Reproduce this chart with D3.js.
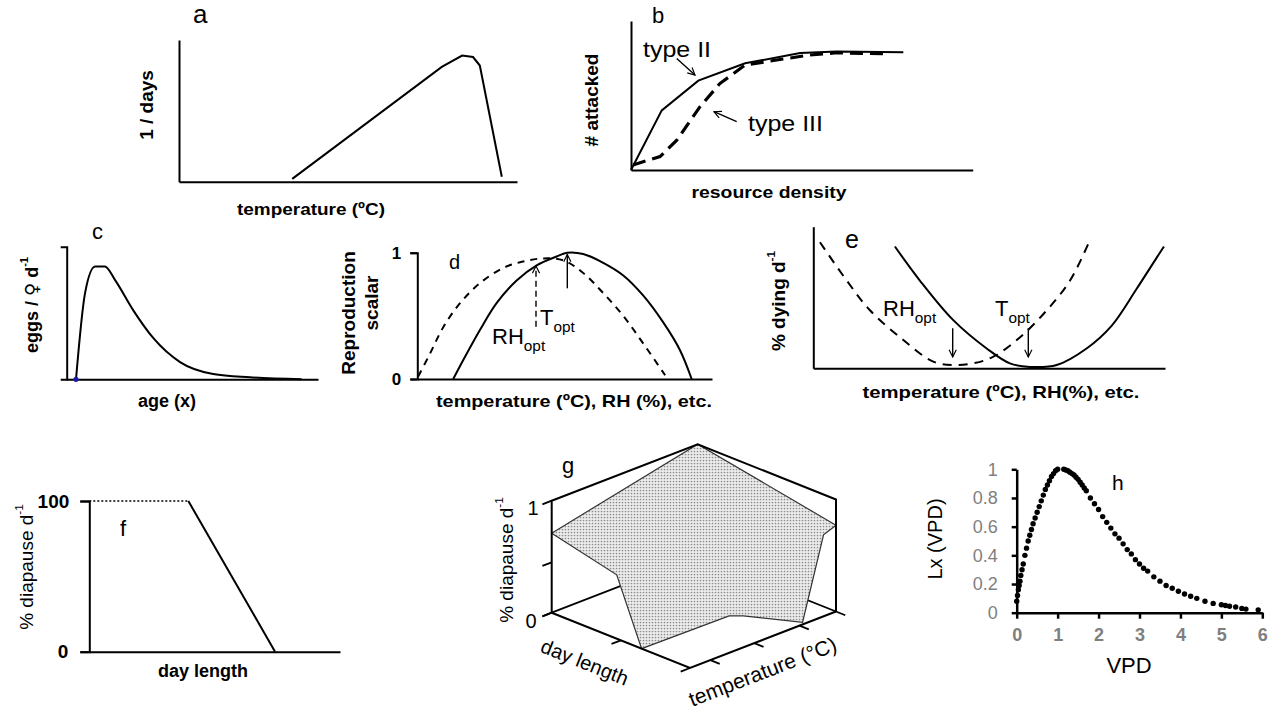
<!DOCTYPE html>
<html>
<head>
<meta charset="utf-8">
<script src="https://cdn.jsdelivr.net/npm/d3@7"></script>
<style>
  body { margin: 0; background: #fff; }
  text { font-family: "Liberation Sans", Arial, sans-serif; }
</style>
</head>
<body>
<div id="chart"></div>
<script>
// ---- data ----
// a: development rate vs temperature
var aTemp = [13.4, 31.1, 33.5, 34.8, 35.6, 38.2];
var aRate = [0.02, 0.81, 0.89, 0.88, 0.82, 0.035];
// b: functional responses
var bDens2 = [0, 9, 19.7, 33.4, 49.5, 60.2, 79.7];
var bType2 = [0, 0.4, 0.6, 0.716, 0.785, 0.796, 0.79];
var bDens3 = [0.6, 8.5, 13.4, 20.2, 26, 33.4, 42.6, 52.4, 60.2, 73.8];
var bType3 = [0.034, 0.09, 0.2, 0.425, 0.58, 0.705, 0.738, 0.772, 0.787, 0.78];
// c: fecundity vs age
var cAge  = [3.7, 7.3, 11.3, 15.2, 19.2, 26.5, 34.5, 45.1, 58.3, 72.9, 93.5];
var cEggs = [0, 0.65, 0.85, 0.85, 0.75, 0.52, 0.31, 0.13, 0.04, 0.015, 0];
// d: reproduction scalar
var dTemp = [12.2, 15.6, 21.3, 26.9, 33.7, 40.5, 47.3, 50.9, 56.3, 63.1, 69.9, 76.7, 83.4, 89.1, 93.1];
var dTVal = [0, 0.15, 0.39, 0.6, 0.78, 0.9, 0.97, 1, 0.99, 0.92, 0.82, 0.66, 0.45, 0.23, 0];
var dRh   = [0.3, 4.3, 8.8, 14.5, 21.3, 29.2, 35.9, 42.8, 49.5, 56.3, 63.1, 69.9, 76.7, 84.1];
var dRhVal = [0.02, 0.2, 0.41, 0.6, 0.76, 0.88, 0.93, 0.955, 0.94, 0.84, 0.68, 0.5, 0.28, 0.03];
// e: mortality
var eTemp = [23.2, 30.3, 39.8, 49.3, 55.9, 61.6, 69.2, 77.7, 84.8, 91.9, 97.6, 99.7];
var eTVal = [0.86, 0.62, 0.34, 0.14, 0.035, 0.01, 0.023, 0.14, 0.3, 0.56, 0.78, 0.86];
var eRh   = [1.9, 9.5, 16.1, 25.6, 34.1, 39.8, 45.5, 51.2, 58.8, 66.4, 73, 78.2];
var eRhVal = [0.89, 0.62, 0.41, 0.2, 0.047, 0.023, 0.035, 0.082, 0.22, 0.41, 0.62, 0.88];
// f: diapause vs day length
var fDay   = [0, 39.5, 74.1];
var fDiap  = [100, 100, 0];
// g: diapause surface (temperature, day length, response), 0..1 each
var gSurfT = [0, 1, 1, 1, 0.79, 0.64, 0.59, 0, 0];
var gSurfD = [1, 1, 0, 0.09, 0.02, 0.29, 0.34, 0.35, 0.53];
var gSurfZ = [0.71, 1, 0.77, 0.64, 0, 0, 0, 0, 0.57];
var gZTicks = [0, 0.45, 1];
var gDTicks = [0, 0.5, 1];
var gTTicks = [0.14, 0.44, 0.75, 1];
// h: Lx(VPD)
var hVpd = [0, 0.02, 0.04, 0.06, 0.08, 0.1, 0.13, 0.16, 0.2, 0.24, 0.28, 0.32, 0.36, 0.4, 0.45, 0.5,
            0.55, 0.6, 0.65, 0.7, 0.75, 0.8, 0.85, 0.9, 0.95, 1.0,
            1.15, 1.2, 1.25, 1.3, 1.35, 1.4, 1.45, 1.5, 1.55, 1.6, 1.65, 1.7, 1.8, 1.9, 2.0, 2.1,
            2.2, 2.3, 2.4, 2.5, 2.6, 2.7, 2.8, 2.9, 3.0, 3.1, 3.2, 3.35, 3.5, 3.65, 3.8, 3.95,
            4.1, 4.25, 4.4, 4.6, 4.8, 5.0, 5.1, 5.2, 5.35, 5.5, 5.6, 5.9];
var hLx  = [0.08, 0.12, 0.16, 0.19, 0.22, 0.26, 0.3, 0.34, 0.4, 0.45, 0.5, 0.54, 0.58, 0.62, 0.66, 0.7,
            0.74, 0.78, 0.82, 0.86, 0.89, 0.92, 0.95, 0.97, 0.99, 1.0,
            1.0, 0.995, 0.99, 0.98, 0.97, 0.96, 0.945, 0.93, 0.91, 0.89, 0.87, 0.85, 0.8, 0.76, 0.72, 0.67,
            0.63, 0.59, 0.55, 0.52, 0.48, 0.44, 0.41, 0.37, 0.34, 0.31, 0.29, 0.25, 0.22, 0.19, 0.17, 0.15,
            0.13, 0.115, 0.1, 0.08, 0.065, 0.055, 0.05, 0.045, 0.04, 0.03, 0.025, 0.02];
var hXTicks = [0, 1, 2, 3, 4, 5, 6];
var hYTicks = [0, 0.2, 0.4, 0.6, 0.8, 1];

// ---- drawing ----
var svg = d3.select("#chart").append("svg")
    .attr("xmlns", "http://www.w3.org/2000/svg")
    .attr("width", 1281)
    .attr("height", 711);

var defs = svg.append("defs");
defs.append("marker")
    .attr("id", "open")
    .attr("viewBox", "0 0 10 10")
    .attr("refX", 9).attr("refY", 5)
    .attr("markerWidth", 9).attr("markerHeight", 9)
    .attr("markerUnits", "userSpaceOnUse")
    .attr("orient", "auto")
    .append("path")
    .attr("d", "M1,1 L9,5 L1,9")
    .attr("fill", "none").attr("stroke", "#000").attr("stroke-width", 1.3);

var pat = defs.append("pattern").attr("id", "dots")
    .attr("width", 3).attr("height", 3).attr("patternUnits", "userSpaceOnUse");
pat.append("rect").attr("width", 3).attr("height", 3).attr("fill", "#ececec");
pat.append("circle").attr("cx", 1.5).attr("cy", 1.5).attr("r", 0.85).attr("fill", "#8c8c8c");

function styleAxis(g, w) {
    g.select(".domain").attr("stroke", "#000").attr("stroke-width", w || 2);
    g.selectAll(".tick line").attr("stroke", "#000").attr("stroke-width", w || 2);
    return g;
}

function drawAxes(x, y, opts) {
    opts = opts || {};
    var left = d3.axisLeft(y).tickValues(opts.yTicks || []).tickSizeOuter(opts.outer || 0)
        .tickSize(opts.tickSize || 0).tickPadding(opts.pad || 6);
    if (opts.fmt) left.tickFormat(opts.fmt);
    if (opts.outer) left.tickSizeOuter(opts.outer);
    var gl = svg.append("g").attr("transform", "translate(" + x.range()[0] + ",0)").call(left);
    gl.selectAll("text").attr("font-size", opts.fs || 16).attr("font-weight", "bold").attr("fill", "#000");
    styleAxis(gl);
    var bottom = d3.axisBottom(x).tickValues([]).tickSizeOuter(0);
    var gb = svg.append("g").attr("transform", "translate(0," + y.range()[0] + ")").call(bottom);
    styleAxis(gb);
    return gl;
}

function curve(xs, ys, x, y, c) {
    return d3.line().x(function (d) { return x(d[0]); }).y(function (d) { return y(d[1]); })
        .curve(c || d3.curveLinear)(d3.zip(xs, ys));
}

function addText(x, y, parts, size, opts) {
    opts = opts || {};
    var t = svg.append("text").attr("x", x).attr("y", y).attr("font-size", size)
        .attr("font-weight", opts.bold ? "bold" : "normal")
        .attr("text-anchor", opts.anchor || "start")
        .attr("fill", opts.fill || "#000");
    if (opts.rotate !== undefined) {
        t.attr("x", 0).attr("y", 0)
            .attr("transform", "translate(" + x + "," + y + ") rotate(" + opts.rotate + ")")
            .attr("dominant-baseline", "middle");
    }
    if (opts.len) t.attr("textLength", opts.len).attr("lengthAdjust", "spacingAndGlyphs");
    parts.forEach(function (p) {
        var ts = t.append("tspan").text(p[0]);
        if (p[1] === "sup") ts.attr("font-size", size * 0.62).attr("dy", -size * 0.42);
        if (p[1] === "sub") ts.attr("font-size", size * 0.7).attr("dy", size * 0.3);
        if (p[1] === "sym") ts.style("font-family", '"DejaVu Sans", sans-serif').attr("font-weight", "normal");
    });
    return t;
}

function arrow(x1, y1, x2, y2, dash) {
    svg.append("line").attr("x1", x1).attr("y1", y1).attr("x2", x2).attr("y2", y2)
        .attr("stroke", "#000").attr("stroke-width", 1.4)
        .attr("stroke-dasharray", dash || null)
        .attr("marker-end", "url(#open)");
}

// ---------- a ----------
var aX = d3.scaleLinear().domain([0, 40]).range([179, 517]);
var aY = d3.scaleLinear().domain([0, 1]).range([181.7, 40]);
drawAxes(aX, aY);
svg.append("path").attr("d", curve(aTemp, aRate, aX, aY))
    .attr("fill", "none").attr("stroke", "#000").attr("stroke-width", 2);
addText(193, 23, [["a"]], 26);
addText(311, 215, [["temperature (ºC)"]], 17, {bold: true, anchor: "middle", len: 148});
addText(148, 105, [["1 / days"]], 19, {bold: true, anchor: "middle", rotate: -90});

// ---------- b ----------
var bX = d3.scaleLinear().domain([0, 100]).range([631, 972.7]);
var bY = d3.scaleLinear().domain([0, 1]).range([170, 21]);
drawAxes(bX, bY);
svg.append("path").attr("d", curve(bDens2, bType2, bX, bY))
    .attr("fill", "none").attr("stroke", "#000").attr("stroke-width", 2);
svg.append("path").attr("d", curve(bDens3, bType3, bX, bY))
    .attr("fill", "none").attr("stroke", "#000").attr("stroke-width", 3.2)
    .attr("stroke-dasharray", "13,7");
addText(652, 23, [["b"]], 22);
addText(643, 57, [["type II"]], 22, {len: 68});
addText(748, 131, [["type III"]], 22, {len: 75});
arrow(676.7, 58.5, 695, 75);
arrow(736.7, 121.7, 714, 111.7);
addText(769, 198, [["resource density"]], 17, {bold: true, anchor: "middle", len: 155});
addText(593, 100, [["# attacked"]], 19, {bold: true, anchor: "middle", rotate: -90});

// ---------- c ----------
var cX = d3.scaleLinear().domain([0, 100]).range([66.7, 318]);
var cY = d3.scaleLinear().domain([0, 1]).range([379.3, 246.7]);
drawAxes(cX, cY, {outer: 6});
svg.append("path").attr("d", curve(cAge, cEggs, cX, cY, d3.curveMonotoneX))
    .attr("fill", "none").attr("stroke", "#000").attr("stroke-width", 2);
svg.append("circle").attr("cx", cX(cAge[0])).attr("cy", cY(cEggs[0])).attr("r", 2.6).attr("fill", "#1a1aa8");
addText(92, 239, [["c"]], 22);
addText(167, 407, [["age (x)"]], 18, {bold: true, anchor: "middle"});
addText(33, 305, [["eggs / "], ["\u2640\uFE0E", "sym"], [" d"], ["-1", "sup"]], 18, {bold: true, anchor: "middle", rotate: -90});

// ---------- d ----------
var dX = d3.scaleLinear().domain([0, 100]).range([417.3, 712]);
var dY = d3.scaleLinear().domain([0, 1]).range([379, 252.7]);
drawAxes(dX, dY, {yTicks: [0, 1], tickSize: 7, pad: 9, fmt: d3.format("d"), fs: 17});
svg.append("path").attr("d", curve(dTemp, dTVal, dX, dY, d3.curveCatmullRom))
    .attr("fill", "none").attr("stroke", "#000").attr("stroke-width", 2);
svg.append("path").attr("d", curve(dRh, dRhVal, dX, dY, d3.curveCatmullRom))
    .attr("fill", "none").attr("stroke", "#000").attr("stroke-width", 2)
    .attr("stroke-dasharray", "7,6");
arrow(dX(50.9), 288.3, dX(50.9), 254.5);
arrow(536, 326.7, 536, 266, "6,4");
addText(449, 269, [["d"]], 20);
addText(540, 325, [["T"], ["opt", "sub"]], 22);
addText(492, 344, [["RH"], ["opt", "sub"]], 22);
addText(574, 407, [["temperature (ºC), RH (%), etc."]], 17, {bold: true, anchor: "middle", len: 276});
addText(350, 313, [["Reproduction"]], 19, {bold: true, anchor: "middle", rotate: -90});
addText(373, 303, [["scalar"]], 19, {bold: true, anchor: "middle", rotate: -90});

// ---------- e ----------
var eX = d3.scaleLinear().domain([0, 100]).range([813.3, 1165]);
var eY = d3.scaleLinear().domain([0, 1]).range([368.3, 226.7]);
drawAxes(eX, eY);
svg.append("path").attr("d", curve(eTemp, eTVal, eX, eY, d3.curveCatmullRom))
    .attr("fill", "none").attr("stroke", "#000").attr("stroke-width", 2);
svg.append("path").attr("d", curve(eRh, eRhVal, eX, eY, d3.curveCatmullRom))
    .attr("fill", "none").attr("stroke", "#000").attr("stroke-width", 2)
    .attr("stroke-dasharray", "9,7");
arrow(952.7, 328.3, 952.7, 357);
arrow(1028.3, 328.3, 1028.3, 357);
addText(845, 248, [["e"]], 25);
addText(883, 316, [["RH"], ["opt", "sub"]], 22);
addText(995, 316, [["T"], ["opt", "sub"]], 22);
addText(1001, 398, [["temperature (ºC), RH(%),  etc."]], 17, {bold: true, anchor: "middle", len: 277});
addText(780, 301, [["% dying  d"], ["-1", "sup"]], 19, {bold: true, anchor: "middle", rotate: -90});

// ---------- f ----------
var fX = d3.scaleLinear().domain([0, 100]).range([89.3, 340]);
var fY = d3.scaleLinear().domain([0, 100]).range([651.7, 501]);
var fAx = drawAxes(fX, fY, {yTicks: [0, 100], tickSize: 9, pad: 11, fmt: d3.format("d"), fs: 19});
fAx.selectAll(".tick text").attr("dx", function (d) { return d === 0 ? -1 : 0; });
svg.append("path").attr("d", curve(fDay.slice(0, 2), fDiap.slice(0, 2), fX, fY))
    .attr("fill", "none").attr("stroke", "#000").attr("stroke-width", 1.6)
    .attr("stroke-dasharray", "2,2");
svg.append("path").attr("d", curve(fDay.slice(1), fDiap.slice(1), fX, fY))
    .attr("fill", "none").attr("stroke", "#000").attr("stroke-width", 2);
addText(120, 536, [["f"]], 22);
addText(203, 677, [["day length"]], 18, {bold: true, anchor: "middle"});
addText(28, 567, [["% diapause  d"], ["-1", "sup"]], 19, {anchor: "middle", rotate: -90});

// ---------- g (3-D surface) ----------
var gF = [690, 668], gTv = [146, -56.5], gDv = [-138.3, -55.3], gH = 112;
var gU = d3.scaleLinear().domain([0, 1]).range([0, 1]);
function proj(t, d, z) {
    return [gF[0] + gU(t) * gTv[0] + gU(d) * gDv[0],
            gF[1] + gU(t) * gTv[1] + gU(d) * gDv[1] - gU(z) * gH];
}
function seg(pts, w) {
    svg.append("path").attr("d", d3.line()(pts))
        .attr("fill", "none").attr("stroke", "#000").attr("stroke-width", w || 2);
}
// back floor lines (mostly hidden by the surface)
seg([proj(0, 1, 0), proj(1, 1, 0), proj(1, 0, 0)], 1.8);
// surface
var surf = d3.range(gSurfT.length).map(function (i) { return proj(gSurfT[i], gSurfD[i], gSurfZ[i]); });
svg.append("path").attr("d", d3.line()(surf) + "Z")
    .attr("fill", "url(#dots)").attr("stroke", "#333").attr("stroke-width", 1.2);
// frame
seg([proj(0, 1, 0), proj(0, 0, 0), proj(1, 0, 0)]);
seg([proj(0, 1, 0), proj(0, 1, 1), proj(1, 1, 1), proj(1, 0, 1), proj(1, 0, 0)]);
// ticks
var tk = 10, tLen = Math.hypot(gTv[0], gTv[1]), dLen = Math.hypot(gDv[0], gDv[1]);
gZTicks.forEach(function (z) {
    var p = proj(0, 1, z);
    seg([p, [p[0] - gTv[0] / tLen * tk, p[1] - gTv[1] / tLen * tk]], 1.8);
});
gDTicks.forEach(function (d) {
    var p = proj(0, d, 0);
    seg([p, [p[0] - gTv[0] / tLen * tk, p[1] - gTv[1] / tLen * tk]], 1.8);
});
gTTicks.forEach(function (t) {
    var p = proj(t, 0, 0);
    seg([p, [p[0] - gDv[0] / dLen * tk, p[1] - gDv[1] / dLen * tk]], 1.8);
});
var z1 = proj(0, 1, 1), z0 = proj(0, 1, 0);
addText(z1[0] - 13, z1[1] + 14, [["1"]], 20, {anchor: "end"});
addText(z0[0] - 15, z0[1] + 15, [["0"]], 20, {anchor: "end"});
addText(562, 473, [["g"]], 22);
addText(508, 560, [["% diapause  d"], ["-1", "sup"]], 19, {anchor: "middle", rotate: -90});
addText(584, 664, [["day length"]], 20, {anchor: "middle", rotate: 21.8});
addText(763, 673, [["temperature (°C)"]], 21, {anchor: "middle", rotate: -21.2});

// ---------- h ----------
var hX = d3.scaleLinear().domain([0, 6]).range([1016.7, 1262.3]);
var hY = d3.scaleLinear().domain([0, 1]).range([612.7, 469.3]);
var hl = svg.append("g").attr("transform", "translate(1016.7,0)")
    .call(d3.axisLeft(hY).tickValues(hYTicks).tickSize(5).tickSizeOuter(0).tickPadding(14)
        .tickFormat(d3.format("~g")));
styleAxis(hl, 2.5);
hl.selectAll("text").attr("font-size", 18).attr("fill", "#7f7f7f");
var hb = svg.append("g").attr("transform", "translate(0,612.7)")
    .call(d3.axisBottom(hX).tickValues(hXTicks).tickSize(6).tickSizeOuter(0).tickPadding(10)
        .tickFormat(d3.format("d")));
styleAxis(hb, 2.5);
hb.selectAll("text").attr("font-size", 18).attr("font-weight", "bold").attr("fill", "#7f7f7f");
svg.append("g").selectAll("circle")
    .data(d3.zip(hVpd, hLx))
    .enter().append("circle")
    .attr("cx", function (d) { return hX(d[0]); })
    .attr("cy", function (d) { return hY(d[1]); })
    .attr("r", 2.7)
    .attr("fill", "#000");
addText(1112, 490, [["h"]], 21);
addText(1129, 673, [["VPD"]], 22, {anchor: "middle"});
addText(937, 539, [["Lx (VPD)"]], 20, {anchor: "middle", rotate: -90});
</script>
</body>
</html>
